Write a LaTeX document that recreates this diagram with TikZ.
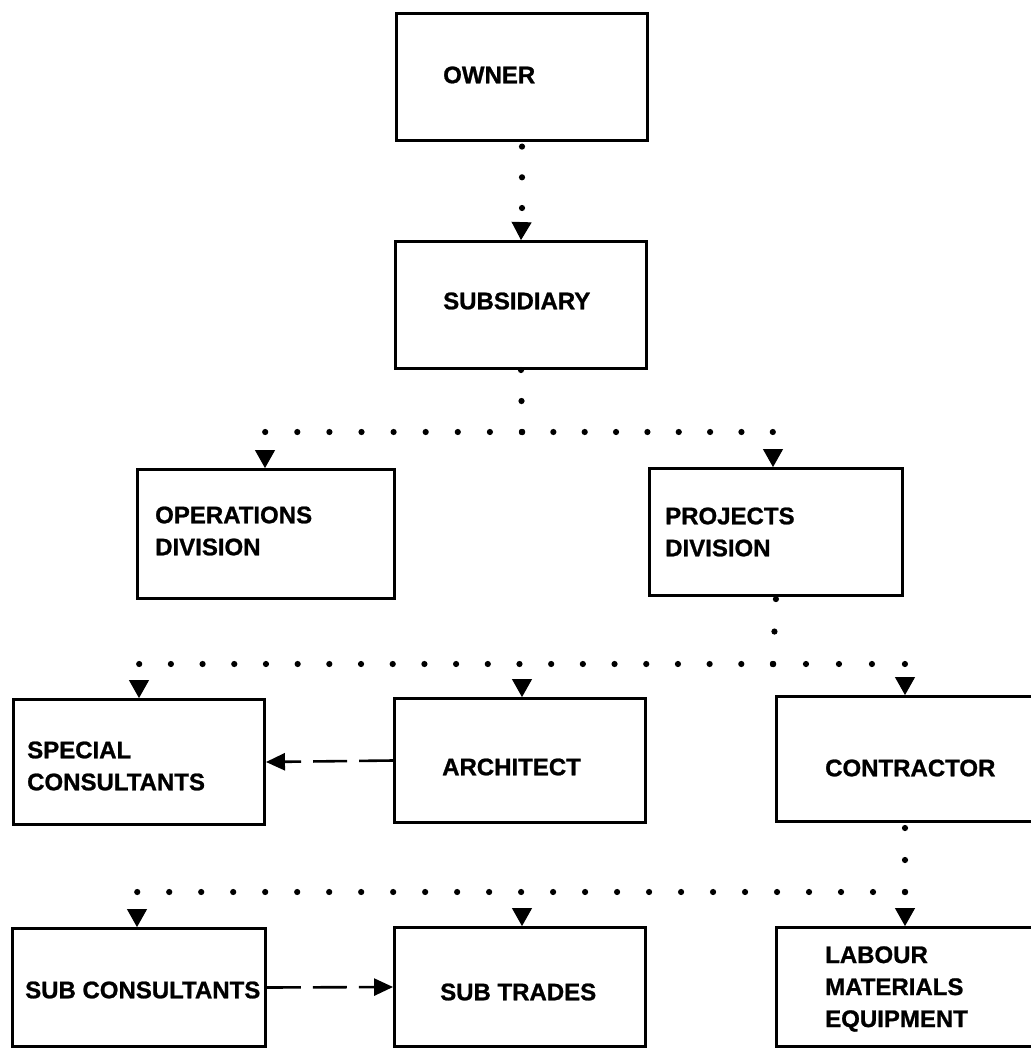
\documentclass[tikz,border=0pt]{standalone}
\usepackage{fontspec}
\setmainfont{Liberation Sans}[BoldFeatures={FakeBold=1}]
\usetikzlibrary{arrows.meta}
\begin{document}
\begin{tikzpicture}[x=1pt,y=-1pt,
  box/.style={draw, line width=2.9pt, inner sep=0pt},
  lbl/.style={inner sep=0pt, anchor=west, align=left,
    font=\bfseries\fontsize{24pt}{32pt}\selectfont},
  dotrow/.style={line width=6.2pt, line cap=round, dash pattern=on 0pt off #1},
  tipconn/.style={line width=1pt, line cap=butt, dash pattern=on 0pt off 400pt,
    -{Triangle[length=18pt,width=20pt]}},
  dashconn/.style={line width=2.6pt, dash pattern=on 34pt off 12pt,
    -{Triangle[length=19pt,width=17pt]}}]
\useasboundingbox (0,0) rectangle (1030,1051);

% boxes
\node[box, minimum width=251pt, minimum height=127pt] (owner) at (522,77) {};
\node[box, minimum width=251pt, minimum height=127pt] (sub)   at (521,305) {};
\node[box, minimum width=257pt, minimum height=129pt] (ops)   at (266,534) {};
\node[box, minimum width=253pt, minimum height=127pt] (proj)  at (776,532) {};
\node[box, minimum width=251pt, minimum height=125pt] (spec)  at (139,762) {};
\node[box, minimum width=251pt, minimum height=124pt] (arch)  at (520,760.5) {};
\node[box, minimum width=257pt, minimum height=125pt] (con)   at (905,759) {};
\node[box, minimum width=253pt, minimum height=118pt] (subc)  at (139,987.5) {};
\node[box, minimum width=251pt, minimum height=119pt] (subt)  at (520,987) {};
\node[box, minimum width=257pt, minimum height=119pt] (lab)   at (905,987) {};

% labels
\node[lbl] (ownerT) at (443,75)  {OWNER};
\node[lbl] (subT)   at (443,301) {SUBSIDIARY};
\node[lbl] (opsT)   at (155,531) {OPERATIONS\\DIVISION};
\node[lbl] (projT)  at (665,532) {PROJECTS\\DIVISION};
\node[lbl] (specT)  at (27,766)  {SPECIAL\\CONSULTANTS};
\node[lbl] (archT)  at (442,767) {ARCHITECT};
\node[lbl] (conT)   at (825,768) {CONTRACTOR};
\node[lbl] (subcT)  at (25,990)  {SUB CONSULTANTS};
\node[lbl] (subtT)  at (440,992) {SUB TRADES};
\node[lbl] (labT)   at (825,989) {LABOUR\\MATERIALS\\EQUIPMENT};

% junction points of the dotted lines
\coordinate (j0)  at (522,208);
\coordinate (j1)  at (522,432);
\coordinate (r1L) at (265,432);
\coordinate (r1R) at (773,432);
\coordinate (j2)  at (773,664);
\coordinate (r2L) at (139,664);
\coordinate (r2M) at (522,664);
\coordinate (r2R) at (905,664);
\coordinate (j3)  at (905,892);
\coordinate (r3L) at (137,892);
\coordinate (r3M) at (522,892);

% owner -> subsidiary
\draw[dotrow=30.7pt] (j0) -- ([yshift=-4.5pt]owner.south);
\draw[tipconn] (j0) -- (sub.north);

% subsidiary -> divisions
\draw[dotrow=31pt] (j1) -- (sub.south);
\draw[dotrow=32.1pt] (j1) -- (r1L);
\draw[dotrow=31.35pt] (j1) -- (r1R);
\draw[tipconn] (r1L) -- (r1L |- ops.north);
\draw[tipconn] (r1R) -- (r1R |- proj.north);

% projects division -> consultants, architect, contractor
\draw[dotrow=32.5pt] (j2) -- (proj.south);
\draw[dotrow=31.69pt] (j2) -- (r2L);
\draw[dotrow=32.98pt] (j2) -- (r2R);
\draw[tipconn] (r2L) -- (r2L |- spec.north);
\draw[tipconn] (r2M) -- (r2M |- arch.north);
\draw[tipconn] (r2R) -- (r2R |- con.north);

% contractor -> sub consultants, sub trades, labour
\draw[dotrow=32pt] (j3) -- (con.south);
\draw[dotrow=31.99pt] (j3) -- (r3L);
\draw[tipconn] (r3L) -- (r3L |- subc.north);
\draw[tipconn] (r3M) -- (r3M |- subt.north);
\draw[tipconn] (j3) -- (j3 |- lab.north);

% dashed links
\draw[dashconn] (arch.west) -- (spec.east);
\draw[dashconn] (subc.east) -- (subt.west);
\end{tikzpicture}
\end{document}
